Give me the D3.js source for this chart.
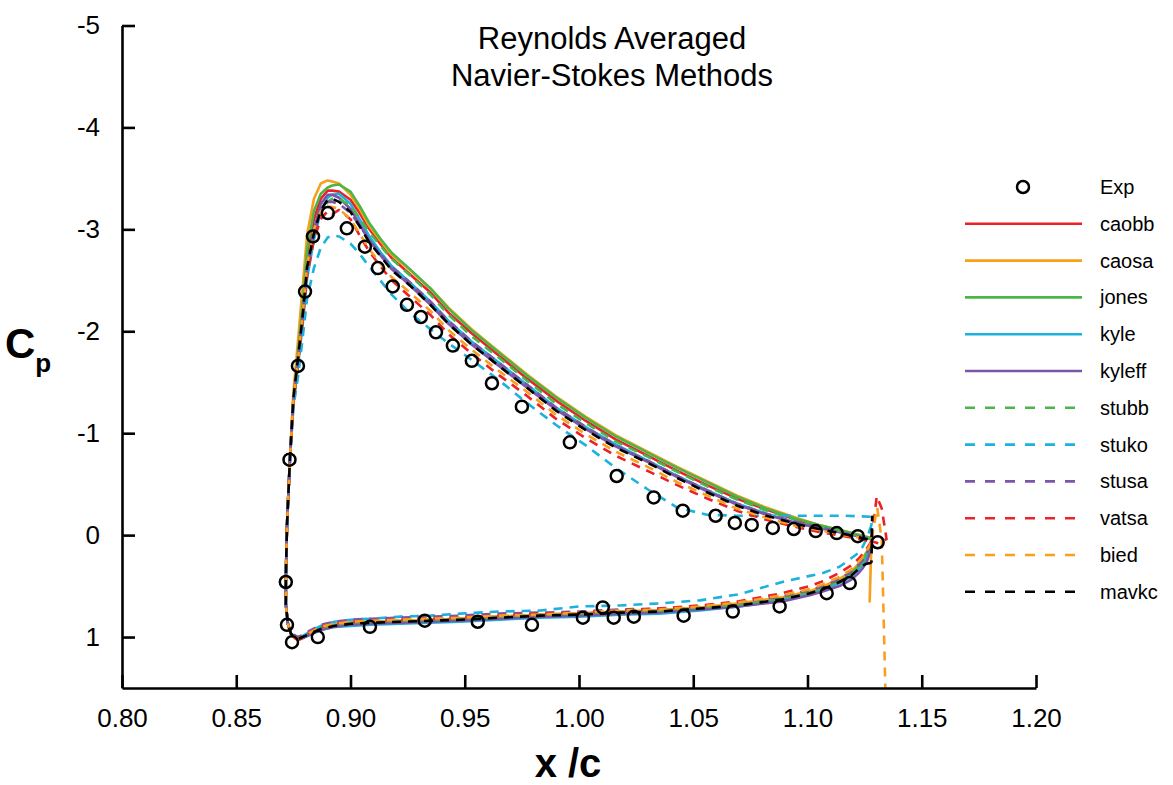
<!DOCTYPE html>
<html>
<head>
<meta charset="utf-8">
<script src="https://cdn.jsdelivr.net/npm/d3@7"></script>
<style>
  body { margin: 0; background: #fff; }
  text { font-family: "Liberation Sans", Arial, sans-serif; }
</style>
</head>
<body>
<svg id="chart" width="1173" height="785"></svg>
<script>
// stations along the element surface (x/c)
var upperX = [0.875,0.877,0.879,0.881,0.884,0.887,0.890,0.892,0.895,0.900,0.904,0.908,0.913,0.918,0.926,0.935,
              0.943,0.953,0.965,0.977,0.990,1.003,1.016,1.030,1.043,1.056,1.069,1.082,1.095,1.105,1.116,1.128];
var lowerX = [0.874,0.877,0.879,0.882,0.887,0.893,0.900,0.909,0.922,0.935,0.948,0.965,0.983,1.000,1.018,1.035,
              1.053,1.070,1.089,1.101,1.107,1.114,1.119,1.122,1.124,1.126,1.128];
// leading edge, bottom to top (same for all methods)
var leX  = [0.8726,0.8717,0.8717,0.8722,0.8735];
var leCp = [0.87,0.68,0.43,-0.09,-0.75];

// experiment
var expX  = [0.8717,0.8733,0.8770,0.8801,0.8836,0.8901,0.8984,0.9063,0.9120,0.9185,0.9247,0.9308,0.9374,0.9448,0.9531,
             0.9619,0.9750,0.9960,1.0165,1.0327,1.0454,1.0598,1.0682,1.0756,1.0848,1.0940,1.1036,1.1128,1.1220,1.1307,
             0.8722,0.8744,0.8857,0.9085,0.9325,0.9557,0.9794,1.0017,1.0104,1.0152,1.0240,1.0458,1.0673,1.0878,1.1084,1.1185];
var expCp = [0.46,-0.74,-1.66,-2.39,-2.93,-3.16,-3.01,-2.83,-2.62,-2.44,-2.26,-2.14,-1.99,-1.86,-1.71,
             -1.49,-1.26,-0.91,-0.58,-0.37,-0.24,-0.19,-0.12,-0.10,-0.07,-0.06,-0.04,-0.02,0.01,0.07,
             0.88,1.05,1.00,0.90,0.84,0.85,0.88,0.81,0.71,0.81,0.80,0.79,0.75,0.70,0.57,0.47];

// upper surface Cp at upperX
var caobbUpper  = [-1.35,-1.80,-2.25,-2.75,-3.10,-3.30,-3.38,-3.38,-3.37,-3.29,-3.16,-3.01,-2.86,-2.72,-2.56,-2.38,-2.18,-1.98,-1.76,-1.54,-1.32,-1.12,-0.94,-0.78,-0.63,-0.49,-0.36,-0.25,-0.15,-0.09,-0.03,0.04];
var caosaUpper  = [-1.40,-1.90,-2.42,-2.95,-3.30,-3.45,-3.48,-3.47,-3.45,-3.34,-3.20,-3.04,-2.89,-2.75,-2.60,-2.42,-2.23,-2.02,-1.80,-1.58,-1.36,-1.16,-0.98,-0.82,-0.67,-0.53,-0.39,-0.27,-0.17,-0.10,-0.04,0.03];
var jonesUpper  = [-1.33,-1.78,-2.25,-2.80,-3.18,-3.35,-3.41,-3.43,-3.44,-3.37,-3.23,-3.07,-2.91,-2.77,-2.61,-2.42,-2.22,-2.01,-1.79,-1.57,-1.35,-1.15,-0.97,-0.81,-0.66,-0.52,-0.38,-0.26,-0.16,-0.10,-0.04,0.03];
var kyleUpper   = [-1.28,-1.65,-2.05,-2.52,-2.90,-3.18,-3.31,-3.34,-3.35,-3.25,-3.10,-2.94,-2.78,-2.64,-2.48,-2.29,-2.10,-1.90,-1.69,-1.48,-1.25,-1.06,-0.89,-0.73,-0.58,-0.44,-0.31,-0.21,-0.12,-0.07,-0.02,0.04];
var kyleffUpper = [-1.30,-1.70,-2.12,-2.62,-3.00,-3.25,-3.34,-3.34,-3.31,-3.20,-3.05,-2.90,-2.75,-2.61,-2.45,-2.26,-2.07,-1.87,-1.66,-1.45,-1.23,-1.04,-0.87,-0.72,-0.57,-0.43,-0.30,-0.20,-0.12,-0.07,-0.02,0.04];
var stubbUpper  = [-1.30,-1.70,-2.10,-2.58,-2.93,-3.16,-3.27,-3.30,-3.30,-3.23,-3.11,-2.98,-2.84,-2.71,-2.55,-2.36,-2.16,-1.95,-1.74,-1.52,-1.29,-1.10,-0.92,-0.77,-0.62,-0.48,-0.35,-0.24,-0.15,-0.09,-0.03,0.04];
var stukoUpper  = [-1.25,-1.55,-1.92,-2.32,-2.62,-2.82,-2.92,-2.94,-2.93,-2.86,-2.76,-2.64,-2.50,-2.36,-2.18,-2.02,-1.88,-1.72,-1.52,-1.30,-1.08,-0.88,-0.66,-0.45,-0.27,-0.20,-0.19,-0.19,-0.19,-0.19,-0.19,-0.18];
var stusaUpper  = [-1.32,-1.72,-2.13,-2.60,-2.95,-3.18,-3.27,-3.27,-3.25,-3.16,-3.04,-2.90,-2.76,-2.63,-2.48,-2.29,-2.10,-1.90,-1.69,-1.48,-1.25,-1.06,-0.88,-0.73,-0.58,-0.44,-0.31,-0.21,-0.13,-0.08,-0.02,0.04];
var vatsaUpper  = [-1.30,-1.70,-2.10,-2.55,-2.90,-3.10,-3.18,-3.15,-3.19,-3.10,-2.94,-2.79,-2.64,-2.50,-2.34,-2.16,-1.97,-1.78,-1.57,-1.37,-1.14,-0.95,-0.78,-0.63,-0.49,-0.36,-0.24,-0.15,-0.08,-0.03,0.01,0.06];
var biedUpper   = [-1.32,-1.72,-2.15,-2.65,-3.00,-3.18,-3.22,-3.22,-3.20,-3.10,-2.96,-2.81,-2.67,-2.53,-2.38,-2.20,-2.01,-1.82,-1.61,-1.41,-1.18,-0.99,-0.82,-0.67,-0.52,-0.39,-0.26,-0.17,-0.09,-0.05,0.00,0.04];
var mavkcUpper  = [-1.34,-1.73,-2.14,-2.63,-2.96,-3.19,-3.29,-3.30,-3.27,-3.17,-3.03,-2.88,-2.74,-2.60,-2.45,-2.26,-2.07,-1.87,-1.66,-1.45,-1.22,-1.03,-0.86,-0.71,-0.56,-0.42,-0.29,-0.19,-0.11,-0.06,-0.01,0.05];

// lower surface Cp at lowerX
var caobbLower  = [0.98,1.03,1.01,0.97,0.91,0.88,0.86,0.85,0.84,0.83,0.82,0.80,0.78,0.77,0.75,0.74,0.71,0.68,0.62,0.56,0.52,0.45,0.38,0.31,0.25,0.18,0.10];
var caosaLower  = [0.98,1.03,1.01,0.97,0.91,0.88,0.86,0.85,0.84,0.83,0.82,0.80,0.78,0.77,0.75,0.74,0.71,0.67,0.61,0.55,0.50,0.43,0.36,0.29,0.23,0.16,0.08];
var jonesLower  = [0.97,1.02,1.00,0.97,0.92,0.89,0.87,0.86,0.85,0.84,0.83,0.81,0.79,0.78,0.76,0.75,0.72,0.69,0.63,0.57,0.53,0.46,0.38,0.31,0.25,0.17,0.08];
var kyleLower   = [0.97,1.02,1.01,0.98,0.93,0.90,0.89,0.88,0.87,0.86,0.85,0.83,0.81,0.80,0.78,0.77,0.74,0.70,0.64,0.58,0.54,0.47,0.41,0.35,0.29,0.22,0.12];
var kyleffLower = [0.97,1.02,1.01,0.98,0.93,0.90,0.88,0.87,0.86,0.85,0.84,0.82,0.80,0.79,0.77,0.76,0.73,0.70,0.65,0.59,0.55,0.50,0.44,0.38,0.33,0.26,0.12];
var stubbLower  = [0.97,1.01,0.99,0.96,0.91,0.88,0.86,0.85,0.84,0.83,0.82,0.80,0.78,0.77,0.75,0.74,0.71,0.68,0.62,0.56,0.52,0.45,0.39,0.33,0.27,0.20,0.10];
var stukoLower  = [0.97,1.01,0.99,0.95,0.89,0.85,0.83,0.82,0.80,0.79,0.77,0.75,0.74,0.70,0.69,0.67,0.64,0.58,0.46,0.40,0.37,0.31,0.23,0.18,0.12,0.03,-0.10];
var stusaLower  = [0.96,1.00,0.98,0.94,0.88,0.85,0.83,0.82,0.81,0.80,0.79,0.77,0.76,0.75,0.73,0.72,0.70,0.66,0.60,0.54,0.50,0.43,0.36,0.30,0.25,0.18,0.10];
var vatsaLower  = [0.98,1.03,1.01,0.96,0.90,0.87,0.85,0.84,0.83,0.82,0.81,0.79,0.77,0.76,0.74,0.72,0.69,0.65,0.57,0.50,0.45,0.37,0.30,0.24,0.19,0.13,0.06];
var biedLower   = [0.97,1.02,1.00,0.96,0.90,0.87,0.85,0.84,0.83,0.82,0.81,0.79,0.78,0.76,0.74,0.73,0.70,0.66,0.59,0.53,0.48,0.41,0.34,0.27,0.22,0.15,0.07];
var mavkcLower  = [0.97,1.02,1.00,0.97,0.92,0.89,0.87,0.86,0.85,0.84,0.83,0.81,0.79,0.78,0.76,0.75,0.72,0.69,0.63,0.57,0.53,0.46,0.40,0.34,0.30,0.28,0.27];

// trailing edge extras [x, Cp]
var caosaTE = [[1.1272,0.65]];
var vatsaTE = [[1.1303,-0.38],[1.1325,-0.26],[1.1346,0.04],[1.1310,0.08]];
var biedTE  = [[1.1305,-0.27],[1.1325,0.05],[1.1345,1.9]];
var mavkcTE = [[1.1283,-0.18]];

var xTicks = [0.80,0.85,0.90,0.95,1.00,1.05,1.10,1.15,1.20];
var yTicks = [-5,-4,-3,-2,-1,0,1];

var series = [
	{name:"caobb",  color:"#ec2027", dash:false, upper:caobbUpper,  lower:caobbLower},
	{name:"caosa",  color:"#f8a01c", dash:false, upper:caosaUpper,  lower:caosaLower, te:caosaTE},
	{name:"jones",  color:"#4cb547", dash:false, upper:jonesUpper,  lower:jonesLower},
	{name:"kyle",   color:"#1db2de", dash:false, upper:kyleUpper,   lower:kyleLower},
	{name:"kyleff", color:"#7b55a8", dash:false, upper:kyleffUpper, lower:kyleffLower},
	{name:"stubb",  color:"#4cb547", dash:true,  upper:stubbUpper,  lower:stubbLower},
	{name:"stuko",  color:"#1db2de", dash:true,  upper:stukoUpper,  lower:stukoLower},
	{name:"stusa",  color:"#7b55a8", dash:true,  upper:stusaUpper,  lower:stusaLower},
	{name:"vatsa",  color:"#ec2027", dash:true,  upper:vatsaUpper,  lower:vatsaLower, te:vatsaTE},
	{name:"bied",   color:"#f8a01c", dash:true,  upper:biedUpper,   lower:biedLower,  te:biedTE, open:true},
	{name:"mavkc",  color:"#000000", dash:true,  upper:mavkcUpper,  lower:mavkcLower, te:mavkcTE}
];

var svg = d3.select("#chart");

//scales
var x = d3.scaleLinear().domain([0.8, 1.2]).range([122, 1036]);
var y = d3.scaleLinear().domain([-5, 1.5]).range([25.5, 688]);

svg.append("defs").append("clipPath").attr("id", "plot")
	.append("rect")
	.attr("x", 122).attr("y", 25).attr("width", 914).attr("height", 663);

//walk round the element: lower TE -> LE -> upper -> TE
var contour = function(s){
	var pts = lowerX.map(function(v, i){ return [v, s.lower[i]]; }).reverse();
	leX.forEach(function(v, i){ pts.push([v, leCp[i]]); });
	upperX.forEach(function(v, i){ pts.push([v, s.upper[i]]); });
	if (s.te) { s.te.forEach(function(p){ pts.push(p); }); }
	if (!s.open) { pts.push(pts[0]); }
	return pts;
};

var line = d3.line()
	.x(function(d){ return x(d[0]); })
	.y(function(d){ return y(d[1]); });

var lines = svg.append("g").attr("clip-path", "url(#plot)");

series.forEach(function(s){
	lines.append("path")
		.attr("d", line(contour(s)))
		.attr("fill", "none")
		.attr("stroke", s.color)
		.attr("stroke-width", 2.6)
		.attr("stroke-linejoin", "round")
		.attr("stroke-dasharray", s.dash ? "9,7" : null);
});

//experiment circles
svg.append("g").selectAll("circle")
	.data(expX)
	.enter().append("circle")
	.attr("cx", function(d){ return x(d); })
	.attr("cy", function(d, i){ return y(expCp[i]); })
	.attr("r", 6)
	.attr("fill", "none")
	.attr("stroke", "#000")
	.attr("stroke-width", 2.5);

//axes
var xAxis = d3.axisBottom(x)
	.tickValues(xTicks)
	.tickFormat(d3.format(".2f"))
	.tickSizeInner(-13)
	.tickSizeOuter(0)
	.tickPadding(21);

var gx = svg.append("g")
	.attr("transform", "translate(0,688)")
	.call(xAxis);

var yAxis = d3.axisLeft(y)
	.tickValues(yTicks)
	.tickFormat(d3.format("d"))
	.tickSizeInner(-13)
	.tickSizeOuter(0)
	.tickPadding(22);

var gy = svg.append("g")
	.attr("transform", "translate(122,0)")
	.call(yAxis);

[gx, gy].forEach(function(g){
	g.select(".domain").attr("stroke", "#000").attr("stroke-width", 2.6);
	g.selectAll(".tick line").attr("stroke", "#000").attr("stroke-width", 2.6);
	g.selectAll(".tick text")
		.attr("fill", "#000")
		.style("font-size", "26px")
		.style("font-family", "\"Liberation Sans\", Arial, sans-serif");
});
gy.selectAll(".tick text").text(function(d){ return d === 0 ? "0" : String(d).replace("\u2212", "-"); });

//title
var title = svg.append("text")
	.attr("x", 612)
	.attr("text-anchor", "middle")
	.style("font-size", "31px");
title.append("tspan").attr("x", 612).attr("y", 49).text("Reynolds Averaged");
title.append("tspan").attr("x", 612).attr("y", 86).text("Navier-Stokes Methods");

//axis labels
var cp = svg.append("text")
	.attr("x", 5)
	.attr("y", 358)
	.style("font-size", "42px")
	.style("font-weight", "bold");
cp.append("tspan").text("C");
cp.append("tspan").attr("dy", 14).style("font-size", "26px").text("p");

svg.append("text")
	.attr("x", 568)
	.attr("y", 777)
	.attr("text-anchor", "middle")
	.style("font-size", "40px")
	.style("font-weight", "bold")
	.text("x /c");

//legend
var legendNames = ["Exp"].concat(series.map(function(s){ return s.name; }));
var rowY = function(i){ return 187 + i * 36.8; };

var legend = svg.append("g");
legendNames.forEach(function(name, i){
	var yy = rowY(i);
	if (i === 0) {
		legend.append("circle")
			.attr("cx", 1023).attr("cy", yy).attr("r", 6)
			.attr("fill", "none").attr("stroke", "#000").attr("stroke-width", 2.5);
	} else {
		var s = series[i - 1];
		legend.append("line")
			.attr("x1", 965).attr("x2", s.dash ? 1075 : 1082)
			.attr("y1", yy).attr("y2", yy)
			.attr("stroke", s.color)
			.attr("stroke-width", 2.6)
			.attr("stroke-dasharray", s.dash ? "10,10" : null);
	}
	legend.append("text")
		.attr("x", 1100)
		.attr("y", yy + 7)
		.style("font-size", "20px")
		.text(name);
});
</script>
</body>
</html>
